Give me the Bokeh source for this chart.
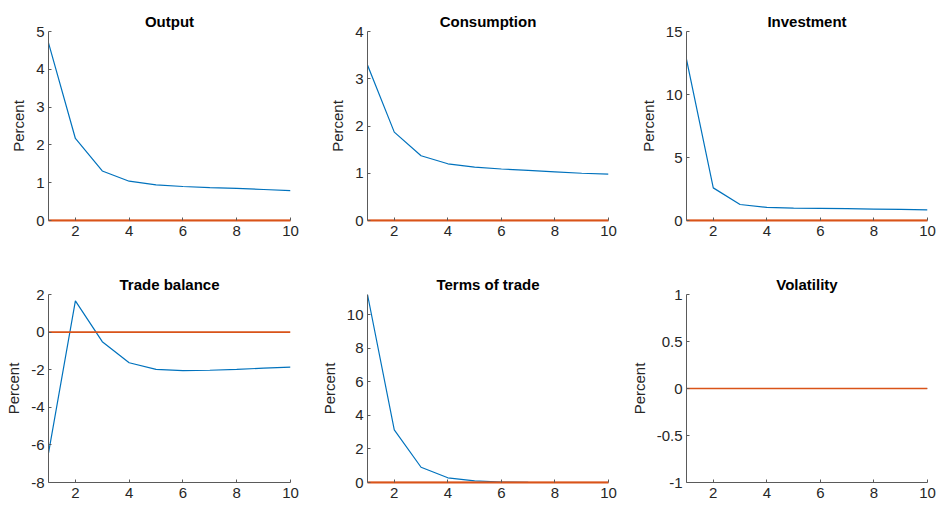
from bokeh.plotting import figure
from bokeh.layouts import column, row
from bokeh.models import FixedTicker, NumeralTickFormatter, Range1d
from bokeh.embed import file_html
from bokeh.resources import INLINE

periods = [1, 2, 3, 4, 5, 6, 7, 8, 9, 10]
steady_state = [0, 0, 0, 0, 0, 0, 0, 0, 0, 0]

output = [4.70, 2.17, 1.31, 1.04, 0.94, 0.90, 0.87, 0.85, 0.82, 0.79]
consumption = [3.29, 1.87, 1.37, 1.20, 1.13, 1.09, 1.06, 1.03, 1.00, 0.98]
investment = [12.78, 2.59, 1.27, 1.04, 0.99, 0.96, 0.94, 0.91, 0.89, 0.85]
trade_balance = [-6.44, 1.66, -0.51, -1.63, -1.98, -2.05, -2.03, -1.98, -1.92, -1.86]
terms_of_trade = [11.22, 3.14, 0.91, 0.28, 0.10, 0.03, 0.01, 0.00, 0.00, 0.00]
volatility = [0, 0, 0, 0, 0, 0, 0, 0, 0, 0]

titles = ["Output", "Consumption", "Investment", "Trade balance", "Terms of trade", "Volatility"]
series = [output, consumption, investment, trade_balance, terms_of_trade, volatility]
y_limits = [(0, 5), (0, 4), (0, 15), (-8, 2), (0, 11.22), (-1, 1)]
y_ticks = [
    [0, 1, 2, 3, 4, 5],
    [0, 1, 2, 3, 4],
    [0, 5, 10, 15],
    [-8, -6, -4, -2, 0, 2],
    [0, 2, 4, 6, 8, 10],
    [-1, -0.5, 0, 0.5, 1],
]
x_ticks = [2, 4, 6, 8, 10]
y_label = "Percent"

BLUE = "#0072BD"
RED = "#D95319"
AXIS = "#5a5a5a"
FONT = "Liberation Sans"
FS = "15px"

# layout geometry: (width, left, right) per column, (height, top, bottom) per row
col_geom = [(305, 48, 15), (315, 62, 12), (317, 66, 10)]
row_geom = [(258, 31, 38), (248, 36, 24)]


def make_panel(i):
    r, c = divmod(i, 3)
    w, ml, mr = col_geom[c]
    h, mt, mb = row_geom[r]
    p = figure(width=w, height=h, output_backend="svg", toolbar_location=None,
               x_range=Range1d(1, 10), y_range=Range1d(*y_limits[i]),
               min_border_left=ml, min_border_right=mr,
               min_border_top=mt, min_border_bottom=mb,
               background_fill_color="white", border_fill_color="white")
    p.outline_line_color = None
    p.grid.visible = False
    p.title.text = titles[i]
    p.title.align = "center"
    p.title.text_font = FONT
    p.title.text_font_size = FS
    p.title.text_font_style = "bold"
    p.title.text_color = "black"
    p.title.standoff = 4

    p.line(periods, series[i], line_color=BLUE, line_width=1.2)
    p.line(periods, steady_state, line_color=RED, line_width=1.6)

    for ax in (p.xaxis[0], p.yaxis[0]):
        ax.axis_line_color = AXIS
        ax.axis_line_width = 1
        ax.major_tick_line_color = AXIS
        ax.major_tick_in = 3
        ax.major_tick_out = 0
        ax.minor_tick_line_color = None
        ax.major_label_text_font = FONT
        ax.major_label_text_font_size = FS
        ax.major_label_text_color = "#262626"
        ax.formatter = NumeralTickFormatter(format="0.[0]")
    # where the zero line lies on the bottom edge it covers the axis line
    if y_limits[i][0] == steady_state[0]:
        p.xaxis[0].axis_line_color = RED
        p.xaxis[0].axis_line_width = 1.8
    p.xaxis[0].ticker = FixedTicker(ticks=x_ticks)
    p.xaxis[0].major_label_standoff = 5
    p.yaxis[0].ticker = FixedTicker(ticks=y_ticks[i])
    p.yaxis[0].major_label_standoff = 4
    p.yaxis[0].axis_label = y_label
    p.yaxis[0].axis_label_text_font = FONT
    p.yaxis[0].axis_label_text_font_size = FS
    p.yaxis[0].axis_label_text_font_style = "normal"
    p.yaxis[0].axis_label_text_color = "#262626"
    p.yaxis[0].axis_label_standoff = 6
    return p


panels = [make_panel(i) for i in range(6)]
layout = column(row(*panels[:3]), row(*panels[3:]))

open("out.html", "w").write(file_html(layout, INLINE))
